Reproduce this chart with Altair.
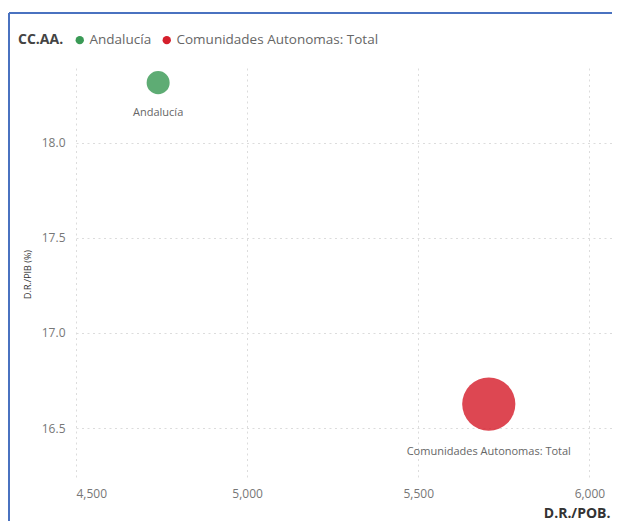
import altair as alt
import pandas as pd

# Data
categories = ["Andalucía", "Comunidades Autonomas: Total"]
dr_pob = [4740, 5706]          # x: D.R./POB.
dr_pib = [18.316, 16.626]      # y: D.R./PIB (%)
bubble_size = [8.9, 47.4]      # bubble size measure
x_ticks = [4500, 5000, 5500, 6000]
y_ticks = [16.5, 17.0, 17.5, 18.0]
colors = ["#3a9a56", "#d51f2c"]

df = pd.DataFrame({
    "ccaa": categories,
    "drpob": dr_pob,
    "drpib": dr_pib,
    "size": bubble_size,
})

FONT = "Open Sans"
W, H = 536, 412

x_enc = alt.X(
    "drpob:Q",
    scale=alt.Scale(domain=[4500, 6066], nice=False, zero=False),
    axis=alt.Axis(
        values=x_ticks, format=",.0f", title="D.R./POB.",
        grid=True, gridColor="#dcdcdc", gridDash=[2, 3.5], gridWidth=1,
        ticks=False, domain=False,
        labelFont=FONT, labelFontSize=12, labelColor="#777", labelPadding=8,
        titleFont=FONT, titleFontSize=14, titleFontWeight="bold", titleColor="#333",
        titleAnchor="end", titleAlign="right", titleX=534, titleY=37,
        titleBaseline="alphabetic",
    ),
)
y_enc = alt.Y(
    "drpib:Q",
    scale=alt.Scale(domain=[16.227, 18.393], nice=False, zero=False),
    axis=alt.Axis(
        values=y_ticks, format=".1f", title="D.R./PIB (%)",
        grid=True, gridColor="#dcdcdc", gridDash=[2, 3.5], gridWidth=1,
        ticks=False, domain=False,
        labelFont=FONT, labelFontSize=12, labelColor="#777", labelPadding=11,
        titleFont=FONT, titleFontSize=9, titleFontWeight="normal", titleColor="#333",
        titlePadding=9,
    ),
)

color_enc = alt.Color(
    "ccaa:N",
    scale=alt.Scale(domain=categories, range=colors),
    legend=alt.Legend(
        orient="none", legendX=-58, legendY=-35, direction="horizontal",
        title="CC.AA.", titleOrient="left", titleFont=FONT, titleFontSize=14,
        titleFontWeight="bold", titleColor="#444", titlePadding=9,
        labelFont=FONT, labelFontSize=13.5, labelColor="#666", labelLimit=400,
        symbolType="circle", symbolSize=70, symbolOpacity=1, symbolStrokeWidth=0,
        columnPadding=8, labelOffset=3,
    ),
)

base = alt.Chart(df)

points = base.mark_circle(opacity=0.82, strokeWidth=0).encode(
    x=x_enc,
    y=y_enc,
    color=color_enc,
    size=alt.Size("size:Q", scale=alt.Scale(domain=[0, 47.4], range=[0, 2830]), legend=None),
)

label_a = base.transform_filter(alt.datum.ccaa == categories[0]).mark_text(
    font=FONT, fontSize=11, color="#666", baseline="middle", dy=30.5
).encode(x="drpob:Q", y="drpib:Q", text="ccaa:N")

label_b = base.transform_filter(alt.datum.ccaa == categories[1]).mark_text(
    font=FONT, fontSize=11, color="#666", baseline="middle", dy=48
).encode(x="drpob:Q", y="drpib:Q", text="ccaa:N")

# Visual border (top and left edges of the visual frame)
border_top = base.mark_rule(color="#4a72c0", strokeWidth=2).encode(
    x=alt.value(-67), x2=alt.value(W + 20), y=alt.value(-55)
)
border_left = base.mark_rule(color="#4a72c0", strokeWidth=2).encode(
    x=alt.value(-67), y=alt.value(-55), y2=alt.value(H + 60)
)

chart = alt.layer(points, label_a, label_b, border_top, border_left).properties(
    width=W, height=H,
    background="white",
    autosize=alt.AutoSizeParams(type="none"),
    padding={"left": 68, "top": 60, "right": 0, "bottom": 41},
).configure_view(strokeWidth=0, stroke="transparent")

chart.save("out.html", embed_options={"renderer": "svg", "actions": False})
